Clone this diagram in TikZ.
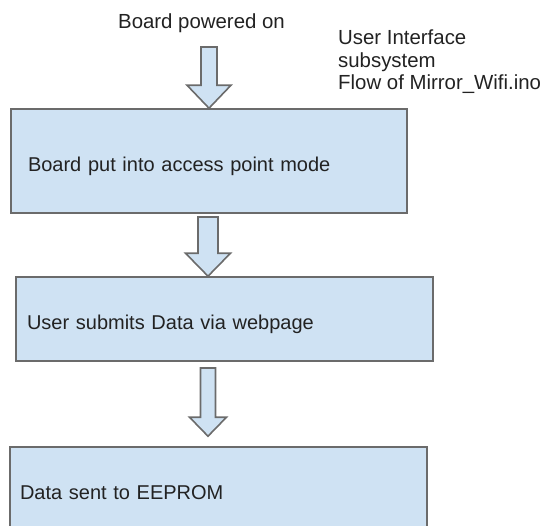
\documentclass[tikz,border=0pt]{standalone}
\usepackage{fontspec}
\setmainfont{Liberation Sans}
\usetikzlibrary{calc}
\definecolor{boxblue}{HTML}{CFE2F3}
\definecolor{edgegray}{HTML}{6B6B6B}
\definecolor{inkgray}{HTML}{222222}
\tikzset{
  stepbox/.style={draw=edgegray, fill=boxblue, line width=1.6pt, rectangle, align=left,
    inner ysep=0pt, text height=20pt, text depth=0pt, text=inkgray,
    font=\fontsize{20pt}{22pt}\selectfont},
  fatarrow/.style={draw=edgegray, fill=boxblue, line width=1.6pt},
  plain/.style={text=inkgray, inner sep=0pt}
}
% block arrow: start, tip, shaft half width, head half width, head length
\newcommand{\blockarrow}[5]{%
  \draw[fatarrow] let \p1=(#1), \p2=(#2) in
    (\x1-#3pt,\y1) -- (\x1+#3pt,\y1) -- (\x1+#3pt,\y2+#5pt) -- (\x1+#4pt,\y2+#5pt)
    -- (\x1,\y2) -- (\x1-#4pt,\y2+#5pt) -- (\x1-#3pt,\y2+#5pt) -- cycle;}
\begin{document}
\begin{tikzpicture}[x=1pt, y=-1pt, font=\fontsize{20.4pt}{22.5pt}\selectfont]
  \useasboundingbox (0,0) rectangle (548,525);
  \clip (0,0) rectangle (548,525);

  \node[plain, anchor=base] (power) at (201.5,28) {Board powered on};
  \node[plain, anchor=north west, align=left] (note) at (338,30)
    {User Interface\\subsystem\\Flow of Mirror\_Wifi.ino};

  \node[stepbox, text width=362pt, inner xsep=17pt, minimum height=104pt] (b1) at (209,161)
    {Board put into access point mode};
  \node[stepbox, text width=395pt, inner xsep=11pt, minimum height=84pt] (b2) at (224.5,319)
    {User submits Data via webpage};
  \node[stepbox, text width=397pt, inner xsep=10pt, minimum height=84pt] (b3) at (218.5,489)
    {Data sent to EEPROM};

  \coordinate (s1) at (209,47);
  \coordinate (s2) at (208,217);
  \coordinate (s3) at (208,368);
  \blockarrow{s1}{b1.north}{8}{22}{23}
  \blockarrow{s2}{b2.north}{10}{22.5}{23}
  \blockarrow{s3}{$(b3.north)+(0,-10)$}{7.5}{18.5}{19}
\end{tikzpicture}
\end{document}
